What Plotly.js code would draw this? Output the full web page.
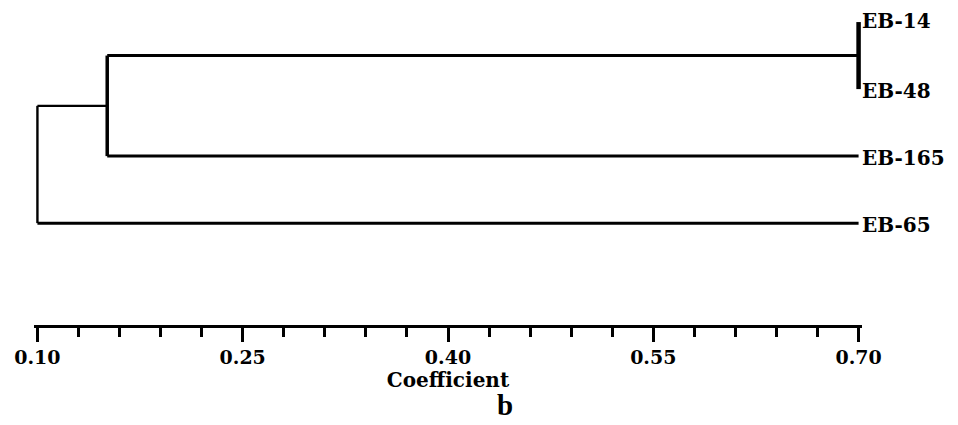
<!DOCTYPE html>
<html>
<head>
<meta charset="utf-8">
<script src="https://cdn.plot.ly/plotly-3.0.1.min.js"></script>
<style>html,body{margin:0;padding:0;background:#fff;}#chart{width:958px;height:425px;}</style>
</head>
<body>
<div id="chart"></div>
<script>
// Leaves of the dendrogram (top to bottom) and their row positions
const leaves = ['EB-14', 'EB-48', 'EB-165', 'EB-65'];
const leafRows = [4, 3, 2, 1];
// Leaf tips sit at the right end of the coefficient scale
const leafCoef = 0.70;
// Merge coefficients and the nodes each merge joins (node ids: 0-3 leaves, 4+ merges in order)
const mergeCoef = [0.70, 0.151, 0.10];
const mergeKids = [[0, 1], [4, 2], [5, 3]];
const majorTicks = [0.10, 0.25, 0.40, 0.55, 0.70];
const tickText = ['0.10', '0.25', '0.40', '0.55', '0.70'];
const axisTitle = 'Coefficient';
const panelLabel = 'b';

// node positions
const nodeX = leaves.map(() => leafCoef);
const nodeY = leafRows.slice();
mergeKids.forEach((k, i) => {
  nodeX.push(mergeCoef[i]);
  nodeY.push((nodeY[k[0]] + nodeY[k[1]]) / 2);
});

const vertW = [4.5, 3.5, 2.4];
const traces = [];
mergeKids.forEach((k, i) => {
  const x = mergeCoef[i];
  const ya = nodeY[k[0]], yb = nodeY[k[1]];
  traces.push({x: [x, x], y: [ya, yb], mode: 'lines',
    line: {color: '#000', width: vertW[i]}, hoverinfo: 'skip', showlegend: false});
  k.forEach(c => {
    if (nodeX[c] !== x) {
      traces.push({x: [x, nodeX[c]], y: [nodeY[c], nodeY[c]], mode: 'lines',
        line: {color: '#000', width: c === 5 ? 2.4 : 3}, hoverinfo: 'skip', showlegend: false});
    }
  });
});

const labelFont = {family: 'DejaVu Serif', size: 20, color: '#000', weight: 'bold'};
const annotations = leaves.map((name, i) => ({
  x: leafCoef, y: leafRows[i], xref: 'x', yref: 'y', text: name, showarrow: false,
  xanchor: 'left', yanchor: 'middle', xshift: 1, yshift: i === 0 ? 1 : -2,
  font: labelFont
}));
const ml = 34, mr = 96, mt = 10, mb = 100;
const pw = 958 - ml - mr, ph = 425 - mt - mb;
annotations.push({x: (505 - ml) / pw, y: -(405 - (425 - mb)) / ph, xref: 'paper', yref: 'paper',
  text: panelLabel, showarrow: false, xanchor: 'center', yanchor: 'middle', borderpad: 0,
  font: {family: 'Liberation Serif', size: 29, color: '#000', weight: 'bold'}});

const layout = {
  width: 958, height: 425,
  margin: {l: ml, r: mr, t: mt, b: mb},
  paper_bgcolor: '#fff', plot_bgcolor: '#fff',
  showlegend: false,
  xaxis: {
    range: [0.0975, 0.7025], showgrid: false, zeroline: false,
    showline: true, linecolor: '#000', linewidth: 2.5,
    tickmode: 'array', tickvals: majorTicks, ticktext: tickText,
    ticks: 'outside', ticklen: 14, tickwidth: 3, tickcolor: '#000',
    minor: {dtick: 0.03, tick0: 0.10, ticks: 'outside', ticklen: 9, tickwidth: 3, tickcolor: '#000', showgrid: false},
    tickfont: {family: 'DejaVu Serif', size: 19, color: '#000', weight: 'bold'},
    title: {text: axisTitle, standoff: 2, font: {family: 'DejaVu Serif', size: 20, color: '#000', weight: 'bold'}},
    fixedrange: true
  },
  yaxis: {range: [-0.52, 4.18], visible: false, fixedrange: true},
  annotations: annotations
};

Plotly.newPlot('chart', traces, layout, {displayModeBar: false, staticPlot: true});
</script>
</body>
</html>
